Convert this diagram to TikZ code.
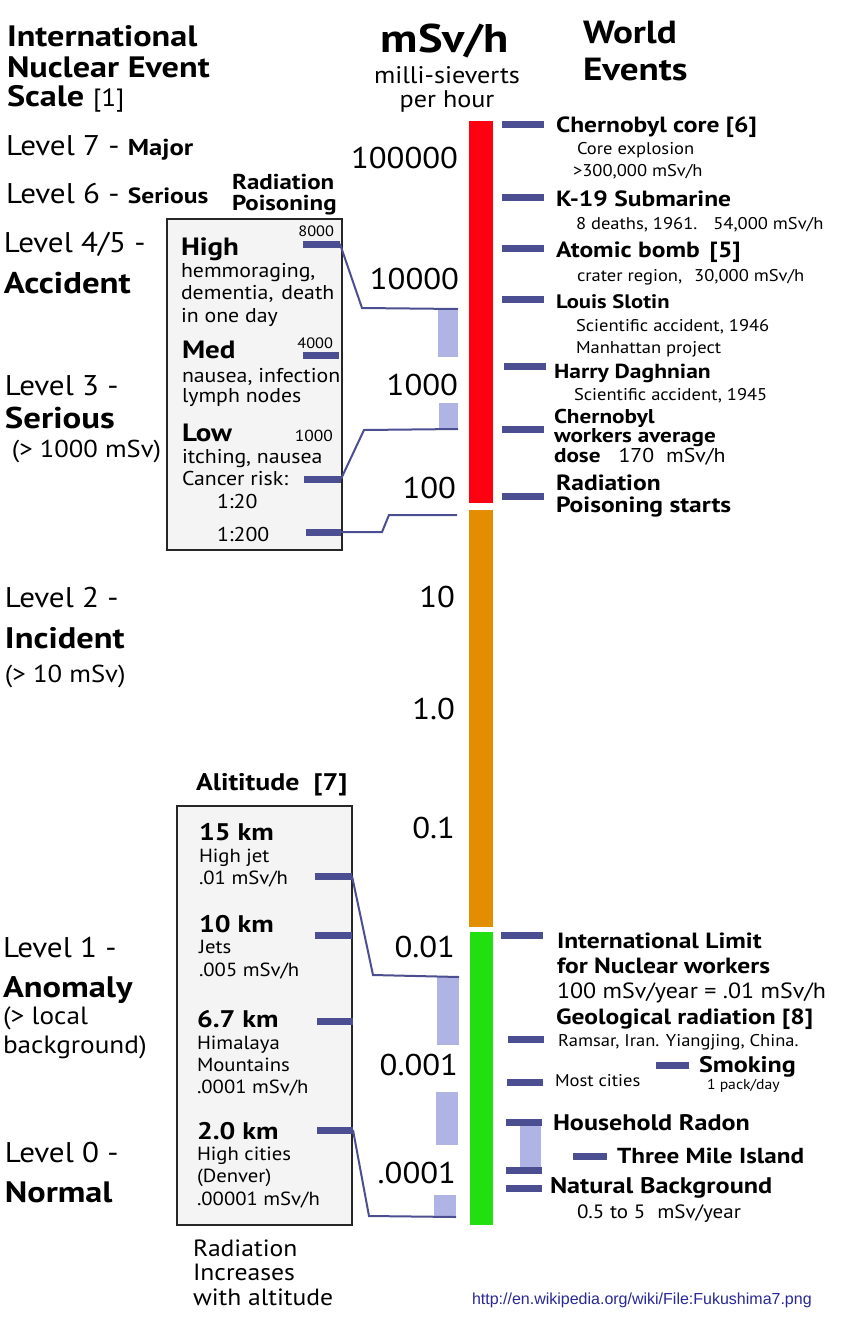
\documentclass[tikz,border=0pt]{standalone}
\usepackage{fontspec}
\setmainfont{PT Sans}[UprightFeatures={FakeStretch=1.09}, BoldFeatures={FakeStretch=1.16}]
\newfontfamily\urlfont{Liberation Sans}
\usepackage{xcolor}
\usetikzlibrary{positioning}

\definecolor{tickblue}{RGB}{75,79,145}
\definecolor{rangeblue}{RGB}{176,180,228}
\definecolor{barred}{RGB}{255,0,16}
\definecolor{barorange}{RGB}{226,142,0}
\definecolor{bargreen}{RGB}{34,224,16}
\definecolor{panelgray}{RGB}{244,244,244}
\definecolor{urlblue}{RGB}{40,40,150}
\newcommand{\setfs}[2]{\fontsize{#1}{#2}\selectfont}

\begin{document}
\begin{tikzpicture}[x=1pt, y=-1pt,
            every node/.style={inner sep=0pt, outer sep=0pt},
            lbl/.style={anchor=base west, align=left},
            num/.style={anchor=base east, font=\setfs{30}{32}},
            lvl/.style={lbl, font=\setfs{28.5}{30}},
            lvlb/.style={lbl, font=\bfseries\setfs{30}{32}},
            evtick/.style={fill=tickblue, minimum width=42pt, minimum height=7pt},
            rng/.style={fill=rangeblue},
            panel/.style={draw=black!85, fill=panelgray, line width=2.5pt},
            link/.style={draw=tickblue, line width=2pt},
            head/.style={lbl, font=\bfseries\setfs{22}{24}},
            sub/.style={lbl, font=\setfs{17}{22}}]

            \useasboundingbox (0,0) rectangle (856,1341);

            % panels
            \draw[panel] (167,219) rectangle (342,550);
            \draw[panel] (177,806) rectangle (352,1225);

            % colour scale
            \node[fill=barred, minimum width=24pt, minimum height=382pt] (red) at (481,312) {};
            \node[fill=barorange, minimum width=24pt, minimum height=417pt] (orange) at (481,718.5) {};
            \node[fill=bargreen, minimum width=23pt, minimum height=293pt] (green) at (481.5,1078.5) {};

            % ranges
            \node[rng, minimum width=20pt, minimum height=48pt] (bar1) at (448,333) {};
            \node[rng, minimum width=19pt, minimum height=26pt] (bar2) at (448.5,416) {};
            \node[rng, minimum width=22pt, minimum height=68pt] (bar3) at (448,1011) {};
            \node[rng, minimum width=22pt, minimum height=53pt] (bar4) at (447,1118.5) {};
            \node[rng, minimum width=22pt, minimum height=22pt] (bar5) at (445,1206) {};
            \node[rng, minimum width=21pt, minimum height=44pt] (radon) at (530.5,1146) {};

            % header
            \node[anchor=base, font=\bfseries\setfs{40}{42}] (unit) at (445,52) {mSv/h};
            \node[anchor=base, align=center, font=\setfs{24}{24}] (unitsub) at (447,107) {milli-sieverts\\per hour};
            \node[lbl, font=\bfseries\setfs{32}{37}] (world) at (583,80) {World\\Events};

            % scale numbers
            \node[num] (n5) at (458,168) {100000};
            \node[num] (n4) at (459,289) {10000};
            \node[num] (n3) at (458,395) {1000};
            \node[num] (n2) at (456,498) {100};
            \node[num] (n1) at (455,607) {10};
            \node[num] (n0) at (455,719) {1.0};
            \node[num] (nm1) at (455,838) {0.1};
            \node[num] (nm2) at (455,957) {0.01};
            \node[num] (nm3) at (458,1075) {0.001};
            \node[num] (nm4) at (456,1183) {.0001};

            % INES levels
            \node[lbl, font=\bfseries\setfs{29.5}{31}] (ines) at (7,77) {International\\Nuclear Event};
            \node[lbl, font=\bfseries\setfs{29.5}{31}] (ines2) at (7,106) {Scale {\mdseries\setfs{25}{30}[1]}};
            \node[lvl] (lv7) at (6,155) {Level 7 - {\bfseries\setfs{23}{24}Major}};
            \node[lvl] (lv6) at (6,203) {Level 6 - {\bfseries\setfs{22}{24}Serious}};
            \node[lvl] (lv45) at (4,252) {Level 4/5 -};
            \node[lvlb] (lv45b) at (4,293) {Accident};
            \node[lvl] (lv3) at (5,395) {Level 3 -};
            \node[lvlb] (lv3b) at (5,428) {Serious};
            \node[lbl, font=\setfs{24.4}{26}] (lv3n) at (12,457) {(> 1000 mSv)};
            \node[lvl] (lv2) at (5,607) {Level 2 -};
            \node[lvlb, font=\bfseries\setfs{29.7}{32}] (lv2b) at (5,648) {Incident};
            \node[lbl, font=\setfs{24.5}{26}] (lv2n) at (5,682) {(> 10 mSv)};
            \node[lvl] (lv1) at (3,957) {Level 1 -};
            \node[lvlb, font=\bfseries\setfs{29.7}{32}] (lv1b) at (3,997) {Anomaly};
            \node[lbl, font=\setfs{25}{29}] (lv1n) at (3,1053) {(> local\\background)};
            \node[lvl] (lv0) at (5,1162) {Level 0 -};
            \node[lvlb, font=\bfseries\setfs{29.5}{32}] (lv0b) at (5,1202) {Normal};

            % radiation poisoning panel
            \node[lbl, font=\bfseries\setfs{21.5}{21}] (poison) at (232,210) {Radiation\\Poisoning};
            \node[anchor=base east, font=\setfs{15}{16}] (v8000) at (334,236) {8000};
            \node[lbl, font=\bfseries\setfs{25}{27}] (high) at (181,255) {High};
            \node[lbl, font=\setfs{20}{22.5}] (highsub) at (181,322) {hemmoraging,\\dementia,\hspace{8pt}death\\in one day};
            \node[anchor=base east, font=\setfs{15}{16}] (v4000) at (333,348) {4000};
            \node[lbl, font=\bfseries\setfs{25}{27}] (med) at (182,358) {Med};
            \node[lbl, font=\setfs{20}{20}] (medsub) at (182,402) {nausea, infection\\lymph nodes};
            \node[lbl, font=\bfseries\setfs{25}{27}] (low) at (182,441) {Low};
            \node[anchor=base east, font=\setfs{16}{18}] (v1000) at (333,441) {1000};
            \node[lbl, font=\setfs{20}{22}] (lowsub) at (182,485) {itching, nausea\\Cancer risk:};
            \node[lbl, font=\setfs{20}{22}] (r20) at (217,508) {1:20};
            \node[lbl, font=\setfs{20}{22}] (r200) at (217,541) {1:200};

            \node[evtick, minimum width=37pt] (tHigh) at (321.5,244) {};
            \node[evtick, minimum width=36pt] (tMed) at (321,355) {};
            \node[evtick, minimum width=37pt] (tLow) at (322.5,479) {};
            \node[evtick, minimum width=35pt] (t200) at (323.5,532) {};

            % altitude panel
            \node[lbl, font=\bfseries\setfs{24}{26}] (alt) at (196,790) {Alititude\ \ [7]};
            \node[lbl, font=\bfseries\setfs{24}{26}] (a15) at (199,840) {15 km};
            \node[lbl, font=\setfs{19}{22}] (a15s) at (199,884) {High jet\\.01 mSv/h};
            \node[lbl, font=\bfseries\setfs{24}{26}] (a10) at (199,932) {10 km};
            \node[lbl, font=\setfs{19}{23}] (a10s) at (199,976) {Jets\\.005 mSv/h};
            \node[lbl, font=\bfseries\setfs{24}{26}] (a67) at (197,1027) {6.7 km};
            \node[lbl, font=\setfs{19}{22}] (a67s) at (197,1093) {Himalaya\\Mountains\\.0001 mSv/h};
            \node[lbl, font=\bfseries\setfs{24}{26}] (a20) at (197,1139) {2.0 km};
            \node[lbl, font=\setfs{19}{22.5}] (a20s) at (197,1205) {High cities\\(Denver)\\.00001 mSv/h};
            \node[lbl, font=\setfs{23.5}{24.5}] (altnote) at (193,1305) {Radiation\\Increases\\with altitude};

            \node[evtick, minimum width=37pt] (t15) at (333.5,876) {};
            \node[evtick, minimum width=37pt] (t10) at (333.5,935) {};
            \node[evtick, minimum width=36pt] (t67) at (335,1021) {};
            \node[evtick, minimum width=36pt] (t20) at (335,1130) {};

            % world events
            \node[evtick] (tCore) at (523,124) {};
            \node[evtick] (tK19) at (523,197) {};
            \node[evtick] (tBomb) at (523,248) {};
            \node[evtick] (tSlotin) at (523,299) {};
            \node[evtick] (tHarry) at (524.5,366) {};
            \node[evtick] (tWorkers) at (523,429) {};
            \node[evtick] (tPois) at (523,496) {};
            \node[evtick] (tLimit) at (522,935) {};
            \node[evtick, minimum width=36pt] (tGeo) at (526,1039) {};
            \node[evtick, minimum width=36pt] (tCities) at (525,1082) {};
            \node[evtick, minimum width=33pt] (tSmoke) at (672.5,1065) {};
            \node[evtick, minimum width=36pt] (tRadonA) at (524,1122) {};
            \node[evtick, minimum width=36pt] (tRadonB) at (524,1170) {};
            \node[evtick, minimum width=34pt] (tTMI) at (590,1156) {};
            \node[evtick, minimum width=36pt] (tNat) at (524,1188) {};

            \node[head] (core) at (556,132) {Chernobyl core [6]};
            \node[sub] (cores1) at (577,154) {Core explosion};
            \node[sub] (cores2) at (573,176) {>300,000 mSv/h};
            \node[head] (k19) at (556,206) {K-19 Submarine};
            \node[sub] (k19s) at (576,229) {8 deaths, 1961.\hspace{16pt}54,000 mSv/h};
            \node[head] (bomb) at (556,257) {Atomic bomb\hspace{10pt}[5]};
            \node[sub] (bombs) at (577,281) {crater region,\hspace{12pt}30,000 mSv/h};
            \node[head, font=\bfseries\setfs{19.5}{22}] (slotin) at (556,308) {Louis Slotin};
            \node[sub] (slotins) at (576,353) {Scientific accident, 1946\\Manhattan project};
            \node[head, font=\bfseries\setfs{20.3}{22}] (harry) at (554,378) {Harry Daghnian};
            \node[sub] (harrys) at (574,400) {Scientific accident, 1945};
            \node[head, font=\bfseries\setfs{20}{19.5}] (workers) at (554,462) {Chernobyl\\workers average\\dose\hspace{18pt}{\mdseries 170\hspace{12pt}mSv/h}};
            \node[head, font=\bfseries\setfs{22}{22}] (pstart) at (556,512) {Radiation\\Poisoning starts};

            \node[head, font=\bfseries\setfs{22}{25}] (limit) at (557,973) {International Limit\\for Nuclear workers};
            \node[lbl, font=\setfs{22}{24}] (limits) at (557,998) {100 mSv/year = .01 mSv/h};
            \node[head] (geo) at (556,1024) {Geological radiation [8]};
            \node[lbl, font=\setfs{17}{18}] (geos) at (558,1046) {Ramsar, Iran. Yiangjing,\ China.};
            \node[head, font=\bfseries\setfs{22.5}{24}] (smoke) at (699,1072) {Smoking};
            \node[lbl, font=\setfs{14.4}{16}] (smokes) at (707,1089) {1 pack/day};
            \node[lbl, font=\setfs{17}{18}] (cities) at (555,1086) {Most cities};
            \node[head, font=\bfseries\setfs{22.5}{24}] (radontxt) at (553,1130) {Household Radon};
            \node[head, font=\bfseries\setfs{21.7}{24}] (tmi) at (617,1163) {Three Mile Island};
            \node[head, font=\bfseries\setfs{22.6}{24}] (nat) at (550,1193) {Natural Background};
            \node[lbl, font=\setfs{19.3}{20}] (nats) at (577,1218) {0.5 to 5\hspace{12pt}mSv/year};

            % source
            \node[lbl, font=\urlfont\setfs{16}{18}, text=urlblue] (src) at (472,1304) {http://en.wikipedia.org/wiki/File:Fukushima7.png};

            % connectors
            \coordinate (hiB) at (362,308);
            \coordinate (loB) at (364,430);
            \coordinate (p200a) at (382,532);
            \coordinate (p200b) at (389,515);
            \coordinate (p200c) at (457,515);
            \coordinate (a15B) at (373,975);
            \coordinate (a20B) at (369,1216);
            \draw[link] (tHigh.east) -- (hiB) -- (bar1.north east);
            \draw[link] (tLow.east) -- (loB) -- (bar2.south east);
            \draw[link] (t200.east) -- (p200a) -- (p200b) -- (p200c);
            \draw[link] (t15.east) -- (a15B) -- (bar3.north east);
            \draw[link] (t20.east) -- (a20B) -- (bar5.south east);
        \end{tikzpicture}
\end{document}
